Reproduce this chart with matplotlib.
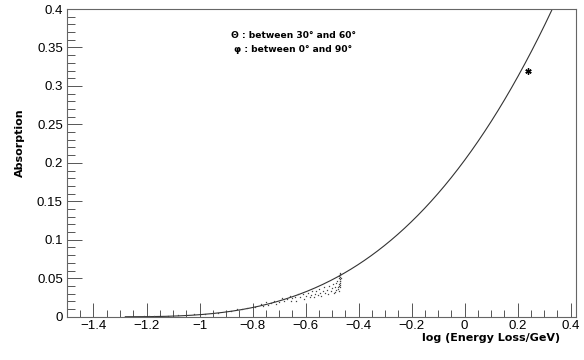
import numpy as np
import matplotlib
matplotlib.use("Agg")
import matplotlib.pyplot as plt
from matplotlib.ticker import MultipleLocator

# fit parameters (pol3) of the curve, and its drawing range
fit_coefs = [0.2035, 0.4664, 0.3561, 0.0906]   # p0, p1, p2, p3
fit_range = (-1.28, 0.40)

# simulated points
pts_x = [-1.27, -1.25, -1.23, -1.21, -1.19, -1.17, -1.12, -1.08, -1.05, -1.02,
         -0.98, -0.95, -0.93, -0.90, -0.88, -0.86, -0.84, -0.82,
         -0.79, -0.77, -0.76, -0.75, -0.74, -0.73, -0.72, -0.71, -0.70, -0.69,
         -0.68, -0.67, -0.66, -0.655, -0.65, -0.64, -0.635, -0.63, -0.62, -0.61,
         -0.605, -0.60, -0.59, -0.585, -0.58, -0.575, -0.57, -0.565, -0.56, -0.555,
         -0.55, -0.545, -0.54, -0.535, -0.53, -0.525, -0.52, -0.515, -0.51, -0.505,
         -0.50, -0.497, -0.494, -0.49, -0.487, -0.484, -0.481, -0.478,
         -0.476, -0.474, -0.473, -0.472, -0.471, -0.470, -0.469, -0.474, -0.472,
         -0.470, -0.469, -0.471, -0.473, -0.470, -0.468, -0.475, -0.472, -0.49]
pts_y = [0.0001, 0.0002, 0.0002, 0.0003, 0.0004, 0.0005, 0.0015, 0.0020, 0.0028, 0.0030,
         0.0040, 0.0052, 0.0047, 0.0072, 0.0068, 0.0095, 0.0105, 0.0118,
         0.0125, 0.0160, 0.0135, 0.0190, 0.0150, 0.0175, 0.0210, 0.0170, 0.0195, 0.0240,
         0.0200, 0.0225, 0.0270, 0.0205, 0.0240, 0.0260, 0.0210, 0.0290, 0.0250, 0.0300,
         0.0230, 0.0270, 0.0310, 0.0250, 0.0280, 0.0340, 0.0260, 0.0300, 0.0330, 0.0280,
         0.0360, 0.0310, 0.0270, 0.0340, 0.0380, 0.0310, 0.0350, 0.0290, 0.0400, 0.0330,
         0.0370, 0.0420, 0.0310, 0.0390, 0.0440, 0.0350, 0.0460, 0.0380,
         0.0360, 0.0400, 0.0430, 0.0460, 0.0490, 0.0520, 0.0550, 0.0500, 0.0380,
         0.0410, 0.0470, 0.0540, 0.0340, 0.0440, 0.0500, 0.0530, 0.0570, 0.0325]

# measured point
meas_x = [0.239]
meas_y = [0.319]

xmin, xmax = -1.5, 0.42
ymin, ymax = 0.0, 0.4

fig = plt.figure(figsize=(5.84, 3.6), dpi=100)
ax = fig.add_axes([0.1147, 0.1203, 0.8716, 0.8547])

xx = np.linspace(fit_range[0], fit_range[1], 400)
yy = np.polyval(fit_coefs[::-1], xx)
ax.plot(xx, yy, color="#333333", lw=0.8)

ax.plot(pts_x, pts_y, linestyle="none", marker="s", ms=0.9, mew=0, color="#444444")
ax.plot(meas_x, meas_y, linestyle="none", marker=(6, 2, 0), ms=4.5, mew=1.0, color="black")

ax.set_xlim(xmin, xmax)
ax.set_ylim(ymin, ymax)

ax.xaxis.set_major_locator(MultipleLocator(0.2))
ax.xaxis.set_minor_locator(MultipleLocator(0.05))
ax.yaxis.set_major_locator(MultipleLocator(0.05))
ax.yaxis.set_minor_locator(MultipleLocator(0.01))

ax.tick_params(which="both", direction="in", top=False, right=False,
               width=0.7, color="#555555", labelsize=9.5)
ax.tick_params(axis="x", which="major", length=10, pad=2.5)
ax.tick_params(axis="x", which="minor", length=5)
ax.tick_params(axis="y", which="major", length=11, pad=3)
ax.tick_params(axis="y", which="minor", length=5.5)

for lab in ax.get_xticklabels() + ax.get_yticklabels():
    lab.set_family("Liberation Sans")

ax.xaxis.set_major_formatter(plt.FuncFormatter(lambda v, p: ("%g" % round(v, 2)).replace("-", "\u2212")))
ax.yaxis.set_major_formatter(plt.FuncFormatter(lambda v, p: "%g" % round(v, 2)))

for sp in ax.spines.values():
    sp.set_linewidth(0.8)
    sp.set_color("#666666")

fig.text(0.959, 0.062, "log (Energy Loss/GeV)", ha="right", va="center",
         fontsize=8, fontweight="bold", family="DejaVu Sans")
fig.text(0.034, 0.603, "Absorption", ha="center", va="center", rotation=90,
         fontsize=8, fontweight="bold", family="DejaVu Sans")

ax.text(0.445, 0.913, "\u0398 : between 30\u00b0 and 60\u00b0", transform=ax.transAxes,
        ha="center", va="center", fontsize=6.6, fontweight="bold", family="DejaVu Sans")
ax.text(0.445, 0.868, "\u03c6 : between 0\u00b0 and 90\u00b0", transform=ax.transAxes,
        ha="center", va="center", fontsize=6.6, fontweight="bold", family="DejaVu Sans")

fig.savefig("out.png", dpi=100)
